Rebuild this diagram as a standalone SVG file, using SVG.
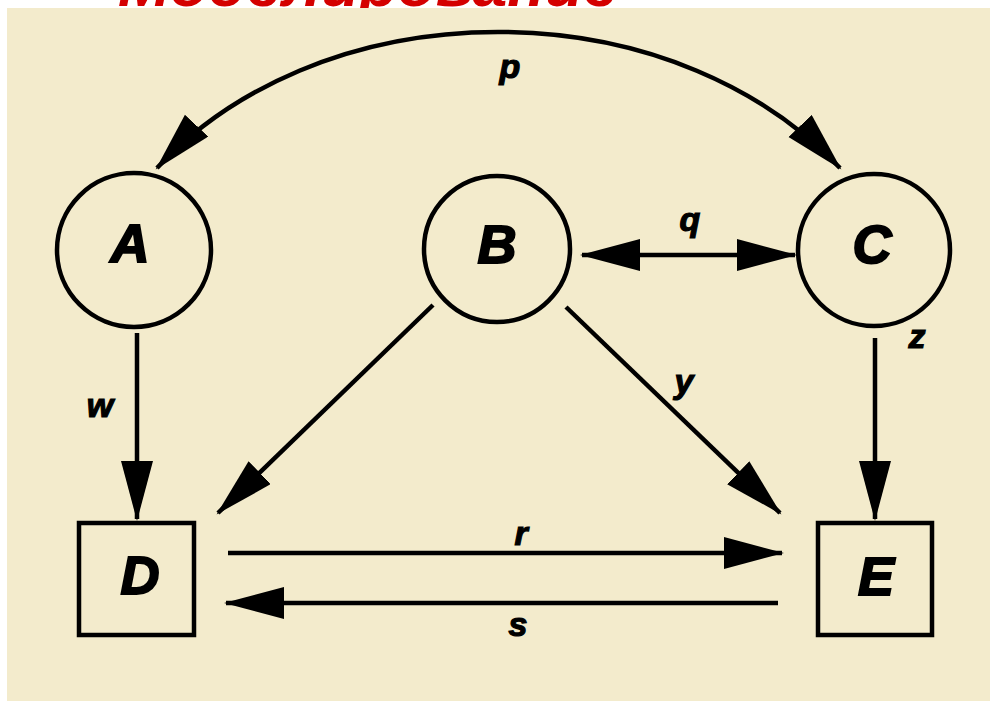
<svg xmlns="http://www.w3.org/2000/svg" width="990" height="701" viewBox="0 0 990 701">
<style>
.node{fill:none;stroke:#000;stroke-width:4.5}
.big{font-family:"Liberation Sans",Arial,sans-serif;font-weight:bold;font-style:italic;font-size:54px;fill:#000;stroke:#000;stroke-width:2;text-anchor:middle}
.lbl{font-family:"Liberation Sans",Arial,sans-serif;font-weight:bold;font-style:italic;font-size:34px;fill:#000;stroke:#000;stroke-width:1.2;text-anchor:middle}
.edge{fill:none;stroke:#000;stroke-width:4.5}
.title{font-family:"Liberation Sans",Arial,sans-serif;font-weight:bold;font-style:italic;font-size:62px;fill:#d40000}
</style>
<defs>
<marker id="ah" markerUnits="userSpaceOnUse" markerWidth="62" markerHeight="34" refX="58" refY="16" orient="auto-start-reverse" viewBox="0 0 62 34">
<path d="M0,0 L60,16 L0,32 z" fill="#000"/>
</marker>
</defs>
<rect x="0" y="0" width="990" height="701" fill="#ffffff"/>
<text class="title" x="118" y="6" textLength="500" lengthAdjust="spacingAndGlyphs">Моделирование</text>
<rect x="7" y="8" width="983" height="693" fill="#f3ebcc"/>
<g id="connectors">
<path class="edge" d="M157,168 C230,90 350,32 498,32 C646,32 766,90 840,168" marker-start="url(#ah)" marker-end="url(#ah)"/>
<text class="lbl" x="510" y="78">p</text>
<line class="edge" x1="582" y1="255" x2="795" y2="255" marker-start="url(#ah)" marker-end="url(#ah)"/>
<text class="lbl" x="690" y="231">q</text>
<line class="edge" x1="137" y1="333" x2="137" y2="519" marker-end="url(#ah)"/>
<text class="lbl" x="100" y="417">w</text>
<line class="edge" x1="433" y1="305" x2="218" y2="513" marker-end="url(#ah)"/>
<line class="edge" x1="566" y1="307" x2="780" y2="513" marker-end="url(#ah)"/>
<text class="lbl" x="684" y="393">y</text>
<line class="edge" x1="875" y1="338" x2="875" y2="519" marker-end="url(#ah)"/>
<text class="lbl" x="917" y="348">z</text>
<line class="edge" x1="228" y1="553" x2="782" y2="553" marker-end="url(#ah)"/>
<text class="lbl" x="521" y="545">r</text>
<line class="edge" x1="778" y1="603" x2="226" y2="603" marker-end="url(#ah)"/>
<text class="lbl" x="518" y="636">s</text>
</g>
<g id="A"><circle class="node" cx="134" cy="250" r="77"/><text class="big" x="130" y="262">A</text></g>
<g id="B"><circle class="node" cx="497" cy="249" r="73"/><text class="big" x="497" y="263">B</text></g>
<g id="C"><circle class="node" cx="874" cy="250" r="76"/><text class="big" x="872" y="263">C</text></g>
<g id="D"><rect class="node" x="79" y="523" width="115" height="112"/><text class="big" x="140" y="594">D</text></g>
<g id="E"><rect class="node" x="818" y="523" width="114" height="112"/><text class="big" x="876" y="595">E</text></g>
</svg>
